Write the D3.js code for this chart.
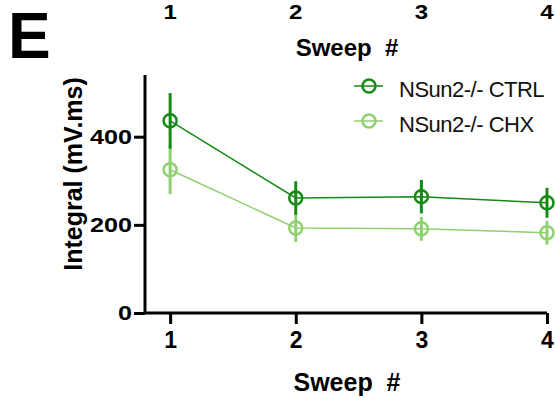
<!DOCTYPE html>
<html><head><meta charset="utf-8">
<script src="https://cdn.jsdelivr.net/npm/d3@7"></script>
<style>body{margin:0;background:#fff}svg{display:block}text{font-family:"Liberation Sans",Arial,sans-serif}</style>
</head><body><svg id="c" width="555" height="398"></svg>
<script>
const sweeps = [1, 2, 3, 4];
const ctrlMean = [436, 261, 264, 250];
const ctrlSem  = [63, 38, 38, 34];
const chxMean  = [325, 193, 191, 182];
const chxSem   = [55, 32, 27, 27];
const seriesNames = ["NSun2-/- CTRL", "NSun2-/- CHX"];
const yTicks = [0, 200, 400];
const colors = ["#158a15", "#8fd06f"];

const svg = d3.select("#c");
const x = d3.scaleLinear().domain([0.8, 4]).range([145, 547]);
const y = d3.scaleLinear().domain([0, 540]).range([313, 75]);
const FONT = '"Liberation Sans",Arial,sans-serif';

function stretch(sel, f) {
  sel.each(function() {
    const w = this.getComputedTextLength();
    d3.select(this).attr("textLength", w * f).attr("lengthAdjust", "spacingAndGlyphs");
  });
}

// panel letter
svg.append("text").attr("x", 8).attr("y", 58).attr("font-size", 64).attr("font-weight", "bold").text("E");

// top clipped axis labels (from previous panel)
const topNums = svg.selectAll(".topnum").data(sweeps).enter().append("text")
  .attr("x", d => x(d)).attr("y", 19).attr("text-anchor", "middle")
  .attr("font-size", 20).attr("font-weight", "bold").text(d => d);
stretch(topNums, 1.2);
svg.append("text").attr("x", 347).attr("y", 56).attr("text-anchor", "middle")
  .attr("font-size", 24).attr("font-weight", "bold").attr("xml:space", "preserve").text("Sweep  #");

// axes
const yAxis = svg.append("g").attr("transform", "translate(145,0)")
  .call(d3.axisLeft(y).tickValues(yTicks).tickSize(11).tickPadding(2).tickFormat(d3.format("d")));
const xAxis = svg.append("g").attr("transform", "translate(0,313)")
  .call(d3.axisBottom(x).tickValues(sweeps).tickSize(11).tickPadding(8).tickFormat(d3.format("d")));
[yAxis, xAxis].forEach(g => {
  g.select(".domain").attr("stroke-width", 3).attr("stroke", "#000");
  g.selectAll(".tick line").attr("stroke-width", 3).attr("stroke", "#000");
  g.selectAll(".tick text").attr("font-weight", "bold").attr("fill", "#000").attr("font-family", FONT);
});
yAxis.selectAll(".tick text").attr("font-size", 21);
stretch(yAxis.selectAll(".tick text"), 1.2);
xAxis.selectAll(".tick text").attr("font-size", 23);
yAxis.select(".domain").attr("d", `M0,${y.range()[1]}V${y(0)}`);
xAxis.select(".domain").attr("d", `M${x.range()[0]},0H${x.range()[1]}`);

svg.append("text").attr("transform", "translate(82,174) rotate(-90)")
  .attr("text-anchor", "middle").attr("font-size", 25).attr("font-weight", "bold").text("Integral (mV.ms)");
svg.append("text").attr("x", 347).attr("y", 391).attr("text-anchor", "middle")
  .attr("font-size", 25).attr("font-weight", "bold").attr("xml:space", "preserve").text("Sweep  #");

// series
const series = [
  {name: seriesNames[0], mean: ctrlMean, sem: ctrlSem, color: colors[0]},
  {name: seriesNames[1], mean: chxMean, sem: chxSem, color: colors[1]}
];
const line = d3.line().x(d => x(d.s)).y(d => y(d.m));
series.slice().reverse().forEach(s => {
  const pts = sweeps.map((sw, i) => ({s: sw, m: s.mean[i], e: s.sem[i]}));
  const g = svg.append("g");
  g.append("path").datum(pts).attr("d", line).attr("fill", "none").attr("stroke", s.color).attr("stroke-width", 1.5);
  g.selectAll(".eb").data(pts).enter().append("line")
    .attr("x1", d => x(d.s)).attr("x2", d => x(d.s))
    .attr("y1", d => y(d.m + d.e)).attr("y2", d => y(d.m - d.e))
    .attr("stroke", s.color).attr("stroke-width", 3);
  g.selectAll(".pt").data(pts).enter().append("circle")
    .attr("cx", d => x(d.s)).attr("cy", d => y(d.m)).attr("r", 6.5)
    .attr("fill", "none").attr("stroke", s.color).attr("stroke-width", 2.5);
});

// legend
series.forEach((s, i) => {
  const ly = 86 + i * 35;
  const g = svg.append("g");
  g.append("line").attr("x1", 354).attr("x2", 383).attr("y1", ly).attr("y2", ly).attr("stroke", s.color).attr("stroke-width", 1.5);
  g.append("circle").attr("cx", 369).attr("cy", ly).attr("r", 6.5).attr("fill", "none").attr("stroke", s.color).attr("stroke-width", 2.5);
  g.append("text").attr("x", 399).attr("y", ly + 11).attr("font-size", 22).attr("letter-spacing", -0.5).attr("fill", "#111").text(s.name);
});
</script></body></html>
